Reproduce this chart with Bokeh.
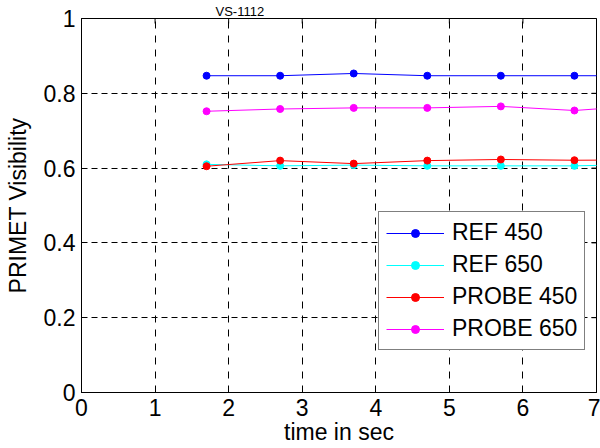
import math
from bokeh.plotting import figure
from bokeh.models import Range1d, Legend, LegendItem, FixedTicker
from bokeh.embed import file_html
from bokeh.resources import INLINE

# ---- data ----
time_s = [1.7, 2.7, 3.7, 4.7, 5.7, 6.7, 7.7]
ref_450 = [0.847, 0.847, 0.853, 0.847, 0.847, 0.847, 0.847]
ref_650 = [0.610, 0.606, 0.608, 0.606, 0.606, 0.606, 0.610]
probe_450 = [0.605, 0.620, 0.612, 0.620, 0.623, 0.621, 0.622]
probe_650 = [0.752, 0.758, 0.761, 0.761, 0.765, 0.754, 0.768]
series_names = ["REF 450", "REF 650", "PROBE 450", "PROBE 650"]
series_colors = ["#0000FF", "#00FFFF", "#FF0000", "#FF00FF"]
x_ticks = [0, 1, 2, 3, 4, 5, 6, 7]
y_ticks = [0, 0.2, 0.4, 0.6, 0.8, 1]
y_tick_labels = ["0", "0.2", "0.4", "0.6", "0.8", "1"]
title_text = "VS-1112"

FONT = "Liberation Sans"
FS = "23px"

p = figure(frame_width=515, frame_height=374,
           min_border_left=81, min_border_right=4,
           min_border_top=18, min_border_bottom=56,
           x_range=Range1d(0, 7), y_range=Range1d(0, 1),
           output_backend="svg", toolbar_location=None)
p.background_fill_color = "white"
p.border_fill_color = "white"
p.outline_line_color = "black"
p.outline_line_width = 1

# small title in the strip above the frame
p.title.text = title_text
p.title.text_font = FONT
p.title.text_font_size = "13px"
p.title.text_font_style = "normal"
p.title.text_color = "black"
p.title.align = "left"
p.title.offset = 134
p.title.standoff = 0

for ax in (p.xaxis[0], p.yaxis[0]):
    ax.major_label_text_font = FONT
    ax.major_label_text_font_size = FS
    ax.major_label_text_color = "black"
    ax.axis_label_text_font = FONT
    ax.axis_label_text_font_size = FS
    ax.axis_label_text_font_style = "normal"
    ax.axis_label_text_color = "black"
    ax.major_tick_in = 5
    ax.major_tick_out = 0
    ax.minor_tick_in = 0
    ax.minor_tick_out = 0
    ax.axis_line_color = "black"

p.xaxis.ticker = FixedTicker(ticks=x_ticks)
p.yaxis.ticker = FixedTicker(ticks=y_ticks)
p.yaxis.major_label_overrides = dict(zip(y_ticks, y_tick_labels))
p.xaxis.axis_label = "time in sec"
p.yaxis.axis_label = "PRIMET Visibility"
p.xaxis.major_label_standoff = 6
p.xaxis.axis_label_standoff = 0
p.yaxis.major_label_standoff = 6
p.yaxis.axis_label_standoff = 10

p.xgrid.ticker = FixedTicker(ticks=x_ticks)
p.ygrid.ticker = FixedTicker(ticks=y_ticks)
p.xgrid.grid_line_color = "black"
p.xgrid.grid_line_dash = "7 7"
p.ygrid.grid_line_color = "black"
p.ygrid.grid_line_dash = "6 4"

# mirrored inward ticks on the top and right edges (half of each dash is clipped by the frame)
p.scatter(x_ticks, [1] * len(x_ticks), marker="dash", size=10, angle=math.pi / 2,
          line_color="black", line_width=1)
p.scatter([7] * len(y_ticks), y_ticks, marker="dash", size=10,
          line_color="black", line_width=1)

items = []
for name, color, ys in zip(series_names, series_colors, [ref_450, ref_650, probe_450, probe_650]):
    r1 = p.line(time_s, ys, line_color=color, line_width=1)
    r2 = p.scatter(time_s, ys, size=7, fill_color=color, line_color=color)
    items.append(LegendItem(label=name, renderers=[r1, r2]))

legend = Legend(items=items, location=(297, 42))
legend.label_text_font = FONT
legend.label_text_font_size = FS
legend.label_text_color = "black"
legend.border_line_color = "black"
legend.border_line_width = 1
legend.background_fill_color = "white"
legend.background_fill_alpha = 1
legend.glyph_width = 58
legend.glyph_height = 20
legend.label_height = 26
legend.label_standoff = 8
legend.spacing = 5
legend.padding = 7
legend.margin = 0
p.add_layout(legend, "center")

open("out.html", "w").write(file_html(p, INLINE))
